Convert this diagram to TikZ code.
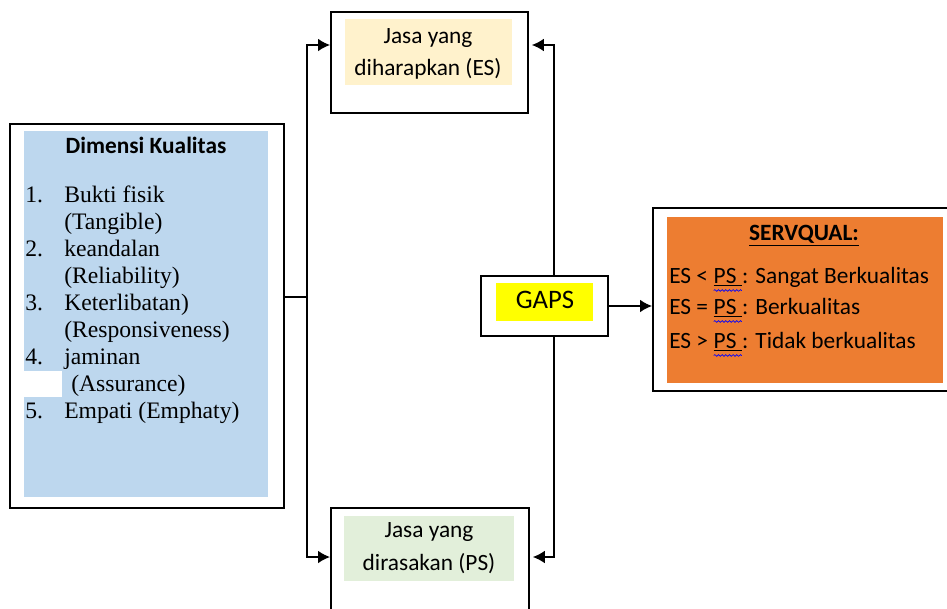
\documentclass[tikz,border=0pt]{standalone}
\usepackage{fontspec}
\setmainfont{Liberation Serif}
\newfontfamily\calibri{Carlito}
\usepackage{xcolor}
\definecolor{dimblue}{HTML}{BDD7EE}
\definecolor{esfill}{HTML}{FFF2CC}
\definecolor{psfill}{HTML}{E2EFDA}
\definecolor{gapyellow}{HTML}{FFFF00}
\definecolor{servorange}{HTML}{ED7D31}
\usetikzlibrary{arrows.meta,fit,decorations.pathmorphing}

\tikzset{
	frame/.style={draw=black, line width=1.4pt, fill=white, inner sep=0pt},
	patch/.style={draw=none, inner sep=0pt},
	link/.style={line width=1.1pt},
	tip/.style={-{Latex[length=8.5pt,width=9pt]}},
	calib/.style={font=\calibri\fontsize{16.6}{20}\selectfont, inner sep=0pt},
	listtxt/.style={font=\fontsize{16.8}{19}\selectfont, inner sep=0pt, anchor=base west},
}

% spelling mark under PS
\newcommand{\psmark}[1]{\tikz[baseline=(pw.base)]{\node[inner sep=0pt, outer sep=0pt] (pw) {\underline{#1}};
	\draw[blue, line width=0.5pt, decorate, decoration={snake, amplitude=0.6pt, segment length=2.6pt}] ([yshift=-3.2pt]pw.south west) -- ([yshift=-3.2pt]pw.south east);}}

\begin{document}
\begin{tikzpicture}[x=0.025cm, y=-0.025cm]

	\useasboundingbox (0,0) rectangle (947,608);
	\clip (0,0) rectangle (947,608);

	% ================= Dimensi Kualitas =================
	\node[frame, fit={(10,124) (284,508)}] (dim) {};
	\node[patch, fill=dimblue, fit={(24,131) (268,497)}] (dimfill) {};
	\fill[white] (24,371) rectangle (62,397);
	\node[calib, font=\calibri\bfseries\fontsize{16.6}{20}\selectfont, anchor=base] (dimtitle) at (146,153) {Dimensi Kualitas};

	\foreach \yy [count=\k] in {202,256,310,364,418}{
		\node[listtxt] (num-\k) at (25,\yy) {\k.};
	}
	\foreach \txt/\xx/\yy [count=\k] in {{Bukti fisik}/64/202, {(Tangible)}/64/229,
		{keandalan}/64/256, {(Reliability)}/64/283, {Keterlibatan)}/64/310,
		{(Responsiveness)}/64/337, {jaminan}/64/364, {(Assurance)}/71/391,
		{Empati (Emphaty)}/64/418}{
		\node[listtxt] (item-\k) at (\xx,\yy) {\txt};
	}

	% ================= expected / perceived service =================
	\node[frame, fit={(331,12) (528,113)}] (es) {};
	\node[patch, fill=esfill, fit={(345,19) (512,85)}] (esfill) {};
	\node[calib, anchor=base] (es-a) at (428,43) {Jasa yang};
	\node[calib, anchor=base] (es-b) at (428,75) {diharapkan (ES)};

	\node[frame, fit={(331,508) (529,650)}] (ps) {};
	\node[patch, fill=psfill, fit={(344,516) (514,581)}] (psfill) {};
	\node[calib, anchor=base] (ps-a) at (429,537) {Jasa yang};
	\node[calib, anchor=base] (ps-b) at (429,570) {dirasakan (PS)};

	% left connector
	\coordinate (jl) at (307,297);
	\coordinate (jes) at (307,45);
	\coordinate (jps) at (307,557);
	\draw[link] (dim.east |- jl) -- (jl);
	\draw[link, tip] (jl) -- (jes) -- (jes -| es.west);
	\draw[link, tip] (jl) -- (jps) -- (jps -| ps.west);

	% ================= GAPS =================
	\node[frame, fit={(481,276) (608,336)}] (gaps) {};
	\node[patch, fill=gapyellow, fit={(496,283) (593,321)}] (gapsfill) {};
	\node[calib, font=\calibri\fontsize{19}{22}\selectfont, anchor=base] (gapstxt) at (545,308) {GAPS};

	\coordinate (res) at (554,45);
	\coordinate (rps) at (554,557);
	\draw[link, tip, shorten >=2pt] (gaps.north -| res) -- (res) -- (res -| es.east);
	\draw[link, tip, shorten >=2pt] (gaps.south -| rps) -- (rps) -- (rps -| ps.east);

	% ================= SERVQUAL =================
	\node[frame, fit={(653,208) (970,391)}] (serv) {};
	\node[patch, fill=servorange, fit={(667,217) (943,383)}] (servfill) {};
	\node[calib, font=\calibri\bfseries\fontsize{16.6}{20}\selectfont, anchor=base] (servtitle) at (804,240) {\underline{SERVQUAL:}};
	\node[calib, anchor=base west] (serv-a) at (669,283) {ES < \psmark{PS\ }: Sangat Berkualitas};
	\node[calib, anchor=base west] (serv-b) at (669,314) {ES = \psmark{PS\ }: Berkualitas};
	\node[calib, anchor=base west] (serv-c) at (669,348) {ES > \psmark{PS\ }: Tidak berkualitas};

	\draw[link, tip] (gaps.east) -- (gaps.east -| serv.west);

\end{tikzpicture}
\end{document}
